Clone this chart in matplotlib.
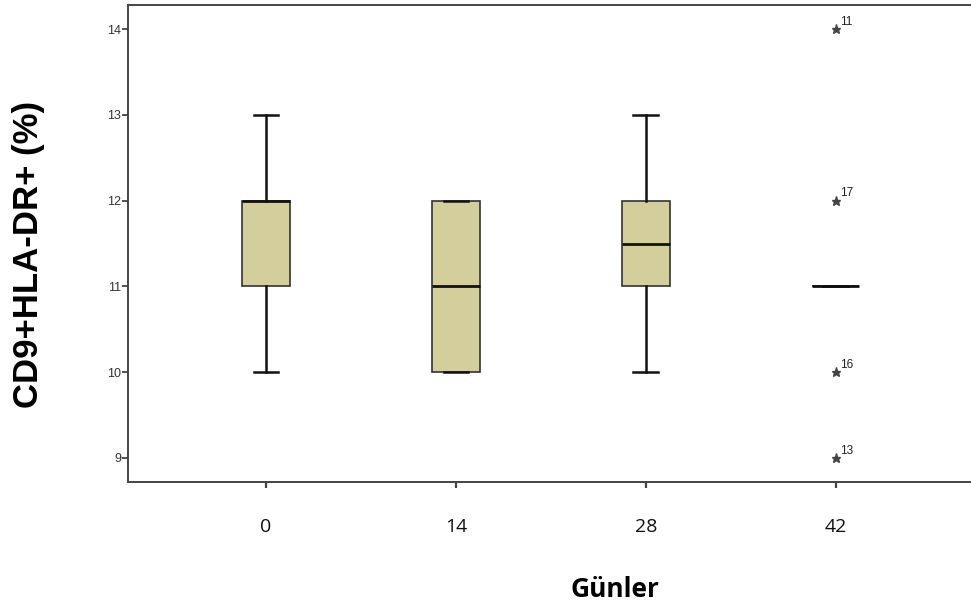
import matplotlib.pyplot as plt

# day groups and box summaries
days = ['0', '14', '28', '42']
q1 = [11, 10, 11, 11]
med = [12, 11, 11.5, 11]
q3 = [12, 12, 12, 11]
wlo = [10, 10, 10, 11]
whi = [13, 12, 13, 11]
# extreme values of the last group with case numbers
out_vals = [14, 12, 10, 9]
out_ids = ['11', '17', '16', '13']

stats = []
for i in range(len(days)):
    stats.append(dict(q1=q1[i], med=med[i], q3=q3[i], whislo=wlo[i], whishi=whi[i], fliers=[]))

fig = plt.figure(figsize=(9.71, 6.12), dpi=100)
ax = fig.add_axes([128 / 971, 130 / 612, 873 / 971, 477 / 612])

pos = list(range(len(days)))
ax.bxp(stats, positions=pos, widths=0.25, patch_artist=True, showfliers=False,
       boxprops=dict(facecolor='#d3ce9b', edgecolor='#333333', linewidth=1.2),
       medianprops=dict(color='#111111', linewidth=2),
       whiskerprops=dict(color='#111111', linewidth=1.8),
       capprops=dict(color='#111111', linewidth=1.8),
       capwidths=0.13)

xo = [3] * len(out_vals)
ax.plot(xo, out_vals, linestyle='none', marker='*', markersize=6.5, color='#444444')
for v, lab in zip(out_vals, out_ids):
    ax.annotate(lab, (3, v), xytext=(3, 3), textcoords='offset points',
                fontsize=8.5, color='#222222', family='Liberation Sans')

ax.set_xlim(-0.726, 3.87)
ax.set_ylim(8.72, 14.28)
ax.set_yticks([9, 10, 11, 12, 13, 14])
ax.set_yticklabels(['9', '10', '11', '12', '13', '14'], family='Liberation Sans', fontsize=9)
ax.set_xticks(pos)
ax.set_xticklabels(days, family='Open Sans', fontsize=14)
ax.tick_params(axis='y', length=4, width=1.2, pad=1, colors='#333333', labelcolor='#333333')
ax.tick_params(axis='x', length=4, width=1.6, pad=22, colors='#444444', labelcolor='#111111')
ax.spines['right'].set_visible(False)
for s in ['left', 'bottom', 'top']:
    ax.spines[s].set_linewidth(1.4)
    ax.spines[s].set_color('#444444')

ax.set_ylabel('CD9+HLA-DR+ (%)', fontsize=25, fontweight='bold', family='Liberation Sans')
ax.yaxis.set_label_coords(-0.095, 0.478)
ax.set_xlabel('Günler', fontsize=19, fontweight='bold', family='Open Sans')
ax.xaxis.set_label_coords((615 - 128) / 873, -0.198)

fig.savefig('out.png', dpi=100)
